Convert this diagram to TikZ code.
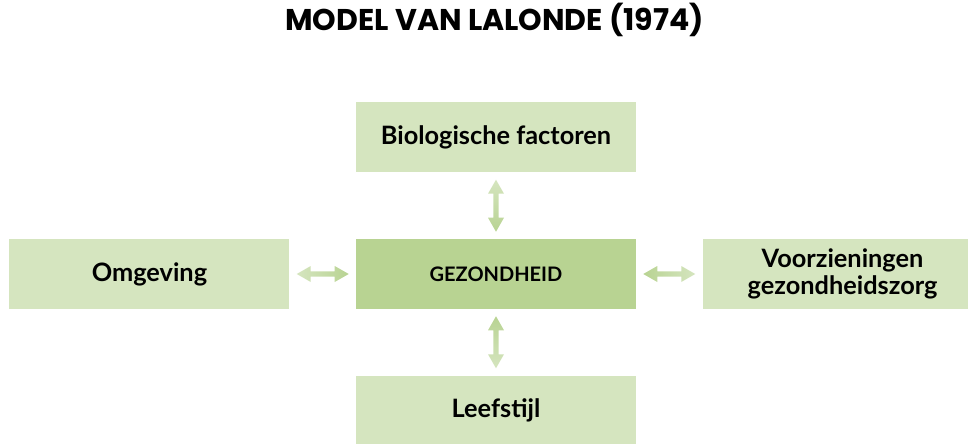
\documentclass[tikz,border=0pt]{standalone}
\usepackage{fontspec}
\setmainfont{Lato}
\newfontfamily\titelfont{Poppins}
\usepackage{xcolor}
\definecolor{lichtgroen}{HTML}{D5E5BF}
\definecolor{donkergroen}{HTML}{B8D392}
\usetikzlibrary{positioning, calc}

% dubbele pijl met kleurverloop
\tikzset{
    pics/hpijl/.style 2 args={code={
        \shade[left color=#1, right color=#2]
            (-19.5pt,0) -- (-9pt,6pt) -- (-9pt,2pt) -- (9pt,2pt) -- (9pt,6pt)
            -- (19.5pt,0) -- (9pt,-6pt) -- (9pt,-2pt) -- (-9pt,-2pt) -- (-9pt,-6pt) -- cycle;
    }},
    pics/vpijl/.style 2 args={code={
        \shade[top color=#1, bottom color=#2]
            (0,19.5pt) -- (6pt,9pt) -- (2pt,9pt) -- (2pt,-9pt) -- (6pt,-9pt)
            -- (0,-19.5pt) -- (-6pt,-9pt) -- (-2pt,-9pt) -- (-2pt,9pt) -- (-6pt,9pt) -- cycle;
    }}
}

\begin{document}
\begin{tikzpicture}[
    node distance=49.5pt and 49.5pt,
    vak/.style={
        rectangle,
        fill=lichtgroen,
        minimum width=210pt,
        minimum height=52.5pt,
        inner sep=0pt,
        align=center,
        font=\bfseries\fontsize{19}{20.5}\selectfont
    },
    titel/.style={font=\titelfont\bfseries\fontsize{22.5}{26}\selectfont}
]
\useasboundingbox (0,0) rectangle (726pt,-332.25pt);

\node[titel] (kop) at (371pt,-15pt) {MODEL VAN LALONDE (1974)};

\node[vak, fill=donkergroen, font=\bfseries\fontsize{15}{18}\selectfont] (gez) at (372pt,-205.5pt) {GEZONDHEID};
\node[vak, above=of gez] (bio)   {Biologische factoren};
\node[vak, below=of gez] (leef)  {Leefstijl};
\node[vak, left=of gez]  (omg)   {Omgeving};
\node[vak, right=of gez] (voorz) {Voorzieningen\\gezondheidszorg};

\pic at ($(bio.south)!.5!(gez.north)$)  {vpijl={lichtgroen}{donkergroen}};
\pic at ($(gez.south)!.5!(leef.north)$) {vpijl={donkergroen}{lichtgroen}};
\pic at ($(omg.east)!.5!(gez.west)$)    {hpijl={lichtgroen}{donkergroen}};
\pic at ($(gez.east)!.5!(voorz.west)$)  {hpijl={donkergroen}{lichtgroen}};

\end{tikzpicture}
\end{document}
